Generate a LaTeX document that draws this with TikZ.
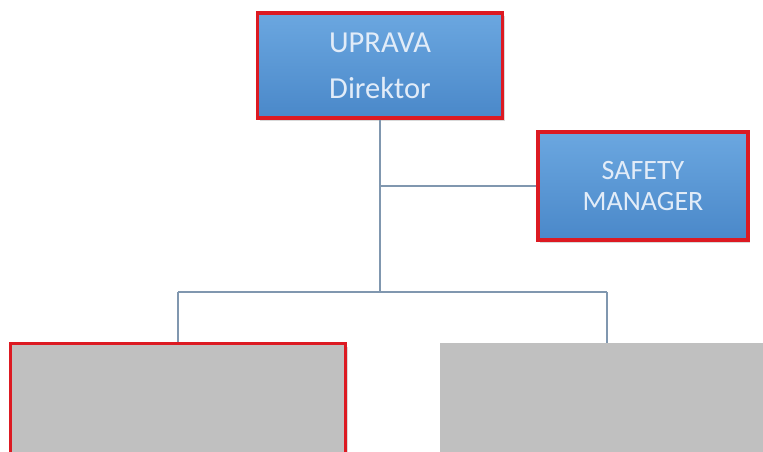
\documentclass[tikz,border=0pt]{standalone}
\usepackage{fontspec}
\setmainfont{Carlito}
\usepackage{xcolor}
\usepackage{tikz}
\usetikzlibrary{calc,shadows}
\definecolor{boxtop}{HTML}{6BA7E0}
\definecolor{boxbot}{HTML}{4A88C9}
\definecolor{redrim}{HTML}{DC1A22}
\definecolor{greybox}{HTML}{C0C0C0}
\definecolor{wire}{HTML}{8097AF}
\definecolor{label}{HTML}{E2ECF8}
\tikzset{
  unit/.style={rectangle, draw=redrim, line width=3.2pt, top color=boxtop, bottom color=boxbot,
    text=label, align=center, drop shadow={opacity=0.3, shadow xshift=2pt, shadow yshift=-3pt}},
  blank/.style={rectangle, fill=greybox, drop shadow={opacity=0.3, shadow xshift=2pt, shadow yshift=-3pt}},
  wireline/.style={draw=wire, line width=1.6pt}
}

\begin{document}
\begin{tikzpicture}[x=1pt,y=-1pt]
  \useasboundingbox (0,0) rectangle (763,452);
  \clip (0,0) rectangle (763,452);

  \coordinate (T) at (380,292);
  \coordinate (J) at (380,186);
  \coordinate (L) at (178,292);
  \coordinate (R) at (607,292);

  \node[unit, minimum width=245pt, minimum height=105pt, font=\fontsize{30.5}{33}\selectfont]
    (uprava) at (380,65.5) {UPRAVA\\[13pt]Direktor};
  \node[unit, minimum width=210pt, minimum height=108pt, font=\fontsize{28}{31}\selectfont]
    (safety) at (643,186) {SAFETY\\MANAGER};
  \node[blank, draw=redrim, line width=3.2pt, minimum width=335pt, minimum height=130pt, anchor=north]
    (left) at (178,342) {};
  \node[blank, minimum width=335pt, minimum height=130pt, anchor=north]
    (right) at (607,343) {};

  \draw[wireline] (uprava.south -| T) -- (T);
  \draw[wireline] (J) -- (safety.west);
  \draw[wireline] (L) -- (R);
  \draw[wireline] (L) -- (left.north);
  \draw[wireline] (R) -- (right.north);
\end{tikzpicture}
\end{document}
